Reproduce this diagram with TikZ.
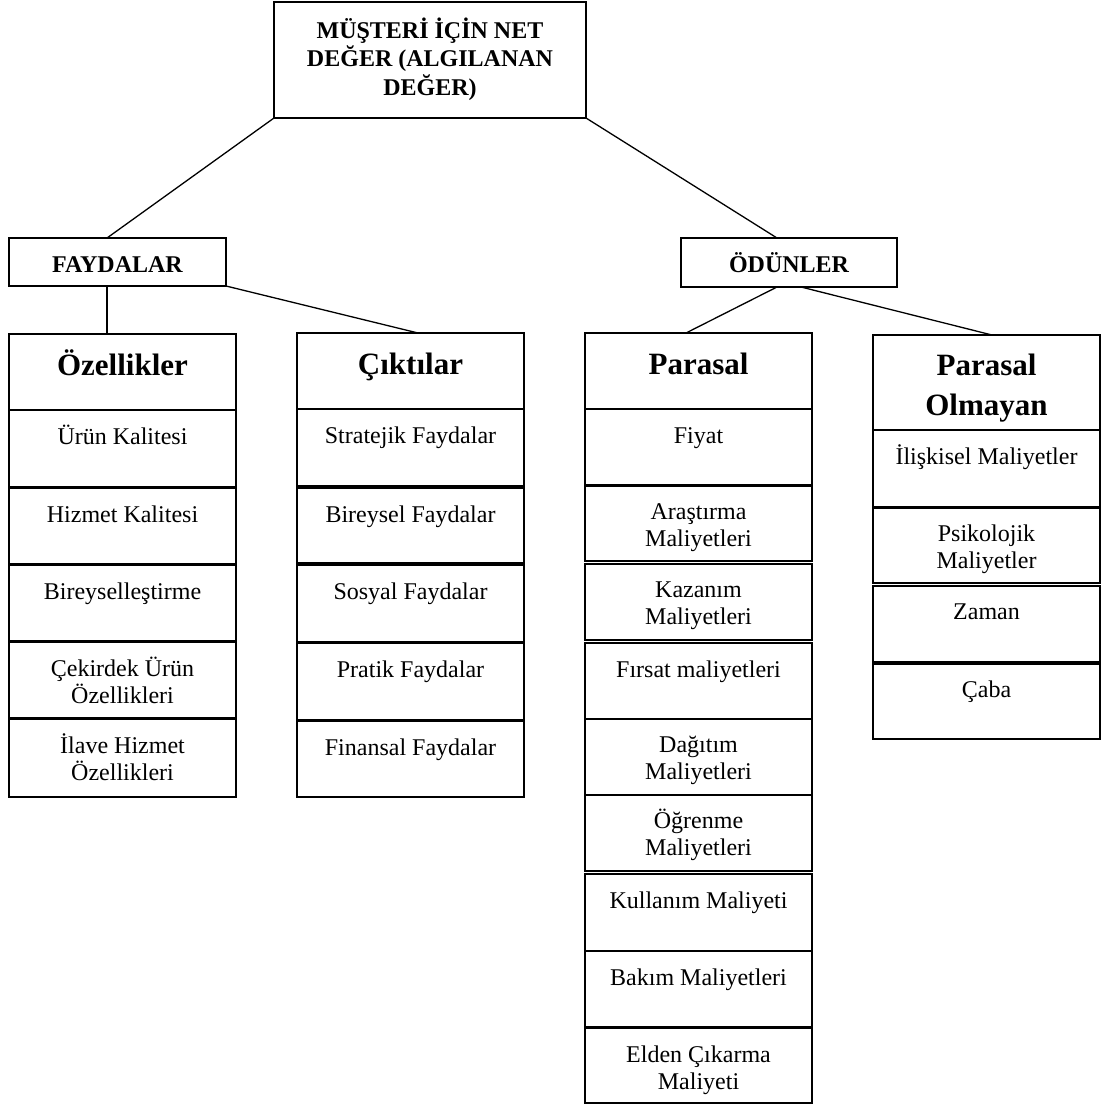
\documentclass[tikz,border=0pt]{standalone}
\usepackage{fontspec}
\setmainfont{Liberation Serif}

% One framed cell: name, left, top, right, bottom, text style, first-baseline offset, text
\newcommand\tabcell[8]{%
  \node[framebox, minimum width={(#4)-(#2)}, minimum height={(#5)-(#3)}]
    (#1) at ({((#2)+(#4))/2},{((#3)+(#5))/2}) {};
  \node[#6] (#1-txt) at (#1.north) {\rule{0pt}{#7pt}#8};
}

\begin{document}
\begin{tikzpicture}[x=1pt,y=-1pt,
  framebox/.style={draw, line width=1.6pt, inner sep=0pt, outer sep=0pt},
  celltxt/.style={anchor=north, inner sep=0pt, align=center,
    font=\fontsize{24}{27}\selectfont},
  headtxt/.style={anchor=north, inner sep=0pt, align=center,
    font=\fontsize{31}{40}\selectfont\bfseries},
  toptxt/.style={anchor=north, inner sep=0pt, align=center,
    font=\fontsize{24}{28.5}\selectfont\bfseries},
  link/.style={line width=1.3pt}]
\useasboundingbox (0,0) rectangle (1108,1106);

% Root and the two branches
\tabcell{root}{274}{2}{586}{118}{toptxt}{36}{MÜŞTERİ İÇİN NET\\DEĞER (ALGILANAN\\DEĞER)}
\tabcell{fayd}{9}{238}{226}{286}{toptxt}{34}{FAYDALAR}
\tabcell{odun}{681}{238}{897}{287}{toptxt}{34}{ÖDÜNLER}

% Column: Özellikler
\tabcell{ozel}{9}{334}{236}{410}{headtxt}{41}{Özellikler}
\tabcell{a1}{9}{410}{236}{487}{celltxt}{34}{Ürün Kalitesi}
\tabcell{a2}{9}{488}{236}{564}{celltxt}{34}{Hizmet Kalitesi}
\tabcell{a3}{9}{565}{236}{641}{celltxt}{34}{Bireyselleştirme}
\tabcell{a4}{9}{642}{236}{718}{celltxt}{34}{Çekirdek Ürün\\Özellikleri}
\tabcell{a5}{9}{719}{236}{797}{celltxt}{34}{İlave Hizmet\\Özellikleri}

% Column: Çıktılar
\tabcell{cikt}{297}{333}{524}{409}{headtxt}{41}{Çıktılar}
\tabcell{b1}{297}{409}{524}{486}{celltxt}{34}{Stratejik Faydalar}
\tabcell{b2}{297}{488}{524}{563}{celltxt}{34}{Bireysel Faydalar}
\tabcell{b3}{297}{565}{524}{642}{celltxt}{34}{Sosyal Faydalar}
\tabcell{b4}{297}{643}{524}{720}{celltxt}{34}{Pratik Faydalar}
\tabcell{b5}{297}{721}{524}{797}{celltxt}{34}{Finansal Faydalar}

% Column: Parasal
\tabcell{paras}{585}{333}{812}{409}{headtxt}{41}{Parasal}
\tabcell{c1}{585}{409}{812}{485}{celltxt}{34}{Fiyat}
\tabcell{c2}{585}{486}{812}{561}{celltxt}{33}{Araştırma\\Maliyetleri}
\tabcell{c3}{585}{564}{812}{640}{celltxt}{33}{Kazanım\\Maliyetleri}
\tabcell{c4}{585}{643}{812}{719}{celltxt}{34}{Fırsat maliyetleri}
\tabcell{c5}{585}{719}{812}{795}{celltxt}{33}{Dağıtım\\Maliyetleri}
\tabcell{c6}{585}{795}{812}{871}{celltxt}{33}{Öğrenme\\Maliyetleri}
\tabcell{c7}{585}{874}{812}{951}{celltxt}{34}{Kullanım Maliyeti}
\tabcell{c8}{585}{951}{812}{1027}{celltxt}{34}{Bakım Maliyetleri}
\tabcell{c9}{585}{1028}{812}{1103}{celltxt}{34}{Elden Çıkarma\\Maliyeti}

% Column: Parasal Olmayan
\tabcell{polm}{873}{335}{1100}{430}{headtxt}{40}{Parasal\\Olmayan}
\tabcell{d1}{873}{430}{1100}{507}{celltxt}{34}{İlişkisel Maliyetler}
\tabcell{d2}{873}{508}{1100}{583}{celltxt}{33}{Psikolojik\\Maliyetler}
\tabcell{d3}{873}{586}{1100}{662}{celltxt}{33}{Zaman}
\tabcell{d4}{873}{664}{1100}{739}{celltxt}{33}{Çaba}

% Connection points on the box edges
\coordinate (fayd-in)  at ([xshift=-10.5pt]fayd.north);
\coordinate (fayd-out) at ([xshift=-10.5pt]fayd.south);
\coordinate (odun-in)  at ([xshift=-12pt]odun.north);
\coordinate (odun-l)   at ([xshift=-12pt]odun.south);
\coordinate (odun-r)   at ([xshift=12pt]odun.south);
\coordinate (cikt-in)  at ([xshift=7.5pt]cikt.north);
\coordinate (paras-in) at ([xshift=-12.5pt]paras.north);
\coordinate (polm-in)  at ([xshift=5.5pt]polm.north);

% Connectors
\draw[link] (root.south west) -- (fayd-in);
\draw[link] (root.south east) -- (odun-in);
\draw[link] (fayd-out) -- (fayd-out |- ozel.north);
\draw[link] (fayd.south east) -- (cikt-in);
\draw[link] (odun-l) -- (paras-in);
\draw[link] (odun-r) -- (polm-in);
\end{tikzpicture}
\end{document}
